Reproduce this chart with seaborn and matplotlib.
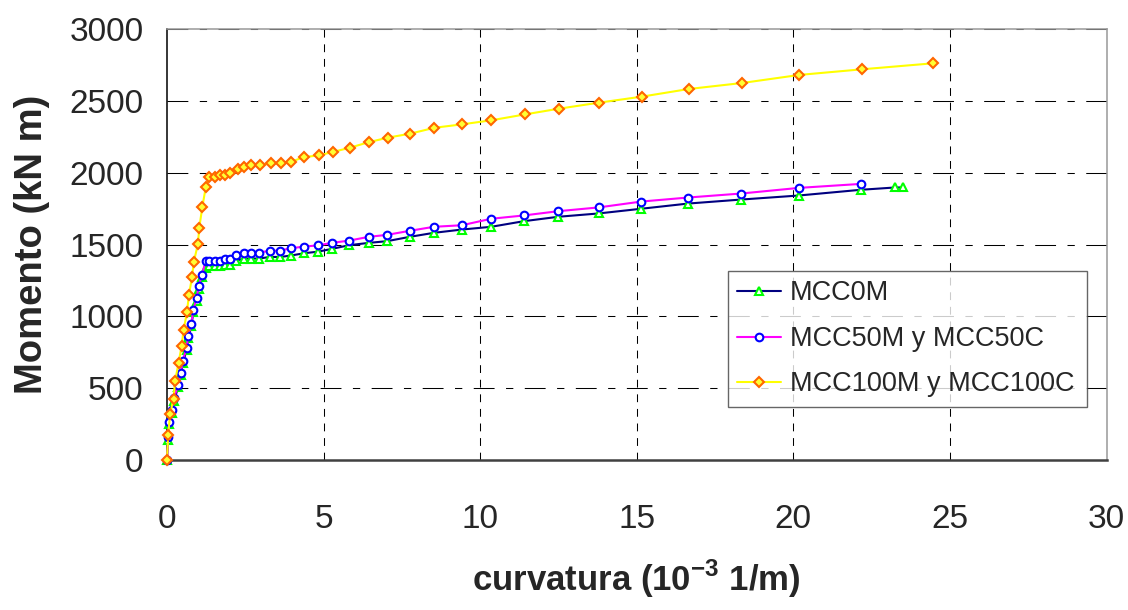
import numpy as np
import pandas as pd
import matplotlib
matplotlib.use('Agg')
import matplotlib.pyplot as plt
import seaborn as sns

# MCC0M
x_mcc0 = [0, 0.04, 0.07, 0.17, 0.22, 0.36, 0.45, 0.50, 0.63, 0.68, 0.78, 0.84, 0.95, 1.01, 1.12,
          1.24, 1.35, 1.53, 1.69, 1.85, 2.01, 2.22, 2.46, 2.68, 2.95, 3.28, 3.62, 3.96, 4.38, 4.83,
          5.26, 5.82, 6.44, 7.03, 7.75, 8.52, 9.42, 10.35, 11.39, 12.50, 13.78, 15.15, 16.64, 18.34,
          20.17, 22.16, 23.25, 23.51]
m_mcc0 = [0, 140, 249, 330, 414, 505, 592, 672, 765, 848, 932, 1028, 1110, 1191, 1272,
          1338, 1349, 1349, 1349, 1361, 1361, 1389, 1403, 1403, 1403, 1414, 1414, 1424, 1440, 1451,
          1470, 1496, 1512, 1524, 1554, 1582, 1605, 1624, 1663, 1694, 1717, 1750, 1786, 1814,
          1842, 1882, 1898, 1898]

# MCC50M y MCC50C
x_mcc50 = [0, 0.04, 0.07, 0.17, 0.22, 0.36, 0.45, 0.50, 0.63, 0.68, 0.78, 0.84, 0.95, 1.01, 1.12,
           1.24, 1.35, 1.53, 1.69, 1.85, 2.01, 2.22, 2.46, 2.68, 2.95, 3.28, 3.62, 3.96, 4.38, 4.83,
           5.26, 5.82, 6.44, 7.03, 7.75, 8.52, 9.42, 10.35, 11.39, 12.50, 13.78, 15.15, 16.64, 18.34,
           20.17, 22.16]
m_mcc50 = [0, 158, 263, 349, 430, 523, 609, 690, 783, 866, 950, 1047, 1128, 1209, 1291,
           1389, 1389, 1389, 1389, 1403, 1403, 1428, 1444, 1444, 1444, 1458, 1458, 1475, 1486, 1495,
           1512, 1528, 1554, 1568, 1596, 1624, 1635, 1680, 1703, 1733, 1759, 1800, 1828, 1856,
           1895, 1923]

# MCC100M y MCC100C
x_mcc100 = [0, 0.04, 0.10, 0.21, 0.26, 0.37, 0.47, 0.53, 0.64, 0.70, 0.80, 0.86, 0.99, 1.03, 1.13,
            1.24, 1.35, 1.53, 1.69, 1.86, 2.01, 2.26, 2.47, 2.69, 2.97, 3.31, 3.64, 3.96, 4.38, 4.84,
            5.29, 5.84, 6.45, 7.05, 7.77, 8.54, 9.43, 10.36, 11.43, 12.52, 13.80, 15.17, 16.66, 18.37,
            20.19, 22.18, 24.46]
m_mcc100 = [0, 174, 319, 426, 549, 675, 796, 905, 1028, 1149, 1272, 1382, 1505, 1614, 1763,
            1900, 1968, 1973, 1982, 1987, 1996, 2024, 2040, 2054, 2054, 2066, 2066, 2077, 2110, 2121,
            2145, 2175, 2214, 2245, 2273, 2314, 2338, 2366, 2407, 2447, 2489, 2531, 2584, 2626,
            2682, 2721, 2763]

labels = ['MCC0M', 'MCC50M y MCC50C', 'MCC100M y MCC100C']

sns.set_style('white')
plt.rcParams['font.family'] = ['Liberation Sans', 'DejaVu Sans']
plt.rcParams['mathtext.fontset'] = 'custom'
plt.rcParams['mathtext.rm'] = 'Liberation Sans'
plt.rcParams['mathtext.bf'] = 'Liberation Sans:bold'

fig = plt.figure(figsize=(11.28, 6.10), dpi=100)
ax = fig.add_axes([0.148, 0.246, 0.833, 0.706])

styles = [
    dict(color='#000080', marker='^', markeredgecolor='#00FF00', markerfacecolor='white', markersize=6),
    dict(color='#FF00FF', marker='o', markeredgecolor='#0000FF', markerfacecolor='white', markersize=5.5),
    dict(color='#FFFF00', marker='D', markeredgecolor='#FF6600', markerfacecolor='#FFFF33', markersize=5),
]
series = [(x_mcc0, m_mcc0), (x_mcc50, m_mcc50), (x_mcc100, m_mcc100)]
for (xs, ys), lab, st in zip(series, labels, styles):
    sns.lineplot(x=xs, y=ys, ax=ax, estimator=None, sort=False, label=lab,
                 linewidth=1.5, markeredgewidth=1.5, clip_on=False, zorder=3, **st)

ax.set_xlim(0, 30)
ax.set_ylim(0, 3000)
ax.set_xticks(range(0, 31, 5))
ax.set_yticks(range(0, 3001, 500))

# dashed grid
for v in range(5, 30, 5):
    ax.axvline(v, color='black', linewidth=0.75, linestyle=(0, (7.5, 6.5)), zorder=1)
for v in range(500, 3001, 500):
    ax.axhline(v, color='black', linewidth=0.75, linestyle=(0, (20, 11, 7, 11)), zorder=1)

ax.spines['left'].set_color('black')
ax.spines['left'].set_linewidth(1.1)
ax.spines['bottom'].set_color('#404040')
ax.spines['bottom'].set_linewidth(1.8)
for s in ['top', 'right']:
    ax.spines[s].set_color('#999999')
    ax.spines[s].set_linewidth(1.1)

ax.tick_params(axis='both', direction='out', length=7, width=1, color='black', labelsize=24)
ax.tick_params(axis='x', pad=25)
ax.tick_params(axis='y', pad=10)

ax.set_xlabel('curvatura (10$^{\\mathbf{-3}}$ 1/m)', fontsize=25, fontweight='bold', labelpad=16)
ax.set_ylabel('Momento (kN m)', fontsize=27.5, fontweight='bold', labelpad=14)

leg = ax.legend(loc='lower left', bbox_to_anchor=(0.597, 0.123, 0.382, 0.328), mode='expand',
                fontsize=19.5, frameon=True, fancybox=False, handlelength=1.6,
                borderaxespad=0, labelspacing=0.72, handletextpad=0.35, borderpad=0.35)
leg.get_frame().set_edgecolor('#404040')
leg.get_frame().set_linewidth(1.0)
leg.set_zorder(5)

fig.savefig('out.png', dpi=100)
